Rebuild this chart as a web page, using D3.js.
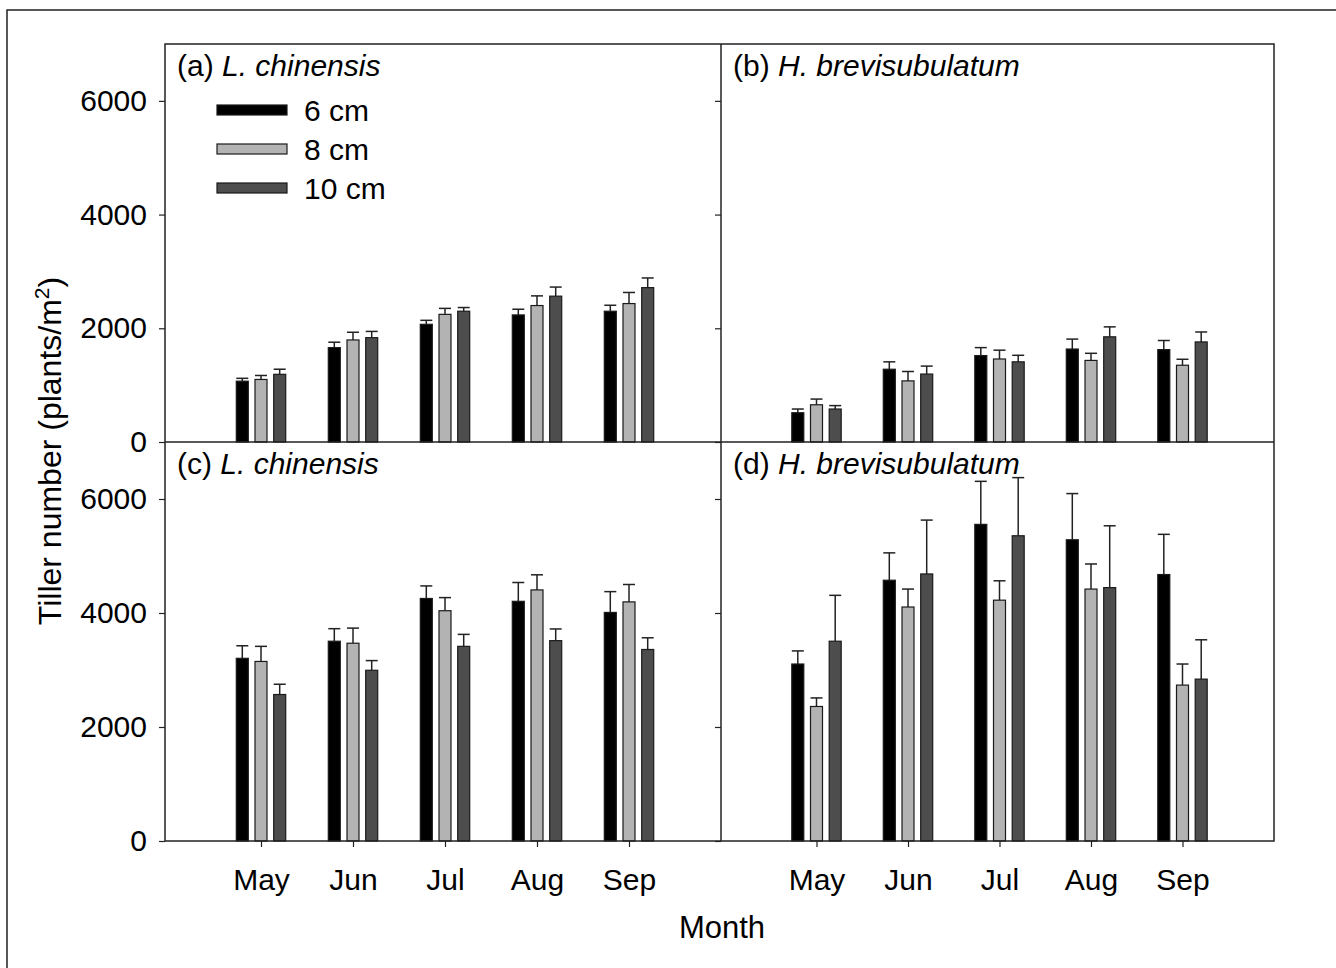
<!DOCTYPE html>
<html>
<head>
<meta charset="utf-8">
<script src="https://cdn.jsdelivr.net/npm/d3@7"></script>
<style>
  body { margin: 0; background: #fff; }
  svg text { font-family: "Liberation Sans", Arial, sans-serif; fill: #000; }
</style>
</head>
<body>
<svg id="chart" width="1336" height="968"></svg>
<script>
// Data
const months = ['May', 'Jun', 'Jul', 'Aug', 'Sep'];
const heights = ['6 cm', '8 cm', '10 cm'];
const yTicks = [0, 2000, 4000, 6000];

// (a) L. chinensis
const a6 = [1070, 1660, 2070, 2235, 2300];
const a6Err = [50, 95, 70, 100, 105];
const a8 = [1100, 1795, 2245, 2400, 2435];
const a8Err = [70, 135, 105, 170, 195];
const a10 = [1190, 1835, 2300, 2565, 2715];
const a10Err = [90, 110, 65, 160, 170];

// (b) H. brevisubulatum
const b6 = [515, 1280, 1520, 1635, 1625];
const b6Err = [65, 130, 140, 175, 160];
const b8 = [655, 1075, 1460, 1435, 1350];
const b8Err = [100, 165, 155, 125, 105];
const b10 = [580, 1195, 1410, 1850, 1760];
const b10Err = [60, 140, 115, 175, 175];

// (c) L. chinensis
const c6 = [3205, 3505, 4255, 4205, 4010];
const c6Err = [220, 220, 220, 330, 365];
const c8 = [3150, 3470, 4040, 4405, 4195];
const c8Err = [265, 265, 230, 265, 305];
const c10 = [2570, 2995, 3415, 3515, 3360];
const c10Err = [180, 170, 210, 205, 205];

// (d) H. brevisubulatum
const d6 = [3105, 4575, 5555, 5285, 4675];
const d6Err = [230, 480, 755, 810, 705];
const d8 = [2360, 4105, 4225, 4420, 2735];
const d8Err = [150, 315, 340, 440, 370];
const d10 = [3505, 4685, 5355, 4445, 2840];
const d10Err = [805, 945, 1020, 1085, 690];

const colors = d3.scaleOrdinal()
    .domain(heights)
    .range(['#000000', '#b3b3b3', '#4d4d4d']);

const svg = d3.select('#chart');

// outer figure border
svg.append('rect')
    .attr('x', 7).attr('y', 10)
    .attr('width', 1340).attr('height', 980)
    .attr('fill', 'none')
    .attr('stroke', '#222')
    .attr('stroke-width', 1.5);

const plotL = 165, plotM = 721, plotR = 1274;
const plotT = 44, plotMY = 442, plotB = 841;

const panels = [
    { label: '(a) ', species: 'L. chinensis', x0: plotL, x1: plotM, y0: plotT, y1: plotMY,
      series: [[a6, a6Err], [a8, a8Err], [a10, a10Err]], yLabels: true, xAxis: false },
    { label: '(b) ', species: 'H. brevisubulatum', x0: plotM, x1: plotR, y0: plotT, y1: plotMY,
      series: [[b6, b6Err], [b8, b8Err], [b10, b10Err]], yLabels: false, xAxis: false },
    { label: '(c) ', species: 'L. chinensis', x0: plotL, x1: plotM, y0: plotMY, y1: plotB,
      series: [[c6, c6Err], [c8, c8Err], [c10, c10Err]], yLabels: true, xAxis: true },
    { label: '(d) ', species: 'H. brevisubulatum', x0: plotM, x1: plotR, y0: plotMY, y1: plotB,
      series: [[d6, d6Err], [d8, d8Err], [d10, d10Err]], yLabels: false, xAxis: true }
];

const offset = d3.scalePoint().domain(heights).range([-18.7, 18.7]);
const barW = 12;

panels.forEach(p => {
    const x = d3.scaleLinear().domain([0, 6]).range([p.x0 + 4, p.x1]);
    const y = d3.scaleLinear().domain([0, 7000]).range([p.y1, p.y0]);
    const g = svg.append('g');

    // y axis
    const yAxis = d3.axisLeft(y).tickValues(yTicks).tickSize(6).tickPadding(12)
        .tickFormat(p.yLabels ? d3.format('d') : '');
    const ya = g.append('g')
        .attr('transform', `translate(${p.x0},0)`)
        .call(yAxis);
    ya.select('.domain').remove();
    ya.selectAll('line').attr('stroke', '#222').attr('stroke-width', 1.2);
    ya.selectAll('text')
        .style('font-size', '30px')
        .style('font-family', '"Liberation Sans", Arial, sans-serif');

    // x axis
    if (p.xAxis) {
        const xa = g.append('g')
            .attr('transform', `translate(0,${p.y1})`)
            .call(d3.axisBottom(x).tickValues([1, 2, 3, 4, 5])
                .tickFormat((d, i) => months[i]).tickSize(6).tickPadding(22));
        xa.select('.domain').remove();
        xa.selectAll('line').attr('stroke', '#222').attr('stroke-width', 1.2);
        xa.selectAll('text')
            .style('font-size', '30px')
            .style('font-family', '"Liberation Sans", Arial, sans-serif');
    }

    // bars and error bars
    p.series.forEach((s, k) => {
        const h = heights[k];
        const rows = months.map((m, i) => ({ i: i + 1, v: s[0][i], e: s[1][i] }));

        g.selectAll(null)
            .data(rows)
            .enter()
            .append('line')
            .attr('x1', d => x(d.i) + offset(h))
            .attr('x2', d => x(d.i) + offset(h))
            .attr('y1', d => y(d.v))
            .attr('y2', d => y(d.v + d.e))
            .attr('stroke', '#222')
            .attr('stroke-width', 1.5);

        g.selectAll(null)
            .data(rows)
            .enter()
            .append('line')
            .attr('x1', d => x(d.i) + offset(h) - barW / 2)
            .attr('x2', d => x(d.i) + offset(h) + barW / 2)
            .attr('y1', d => y(d.v + d.e))
            .attr('y2', d => y(d.v + d.e))
            .attr('stroke', '#222')
            .attr('stroke-width', 1.5);

        g.selectAll(null)
            .data(rows)
            .enter()
            .append('rect')
            .attr('x', d => x(d.i) + offset(h) - barW / 2)
            .attr('y', d => y(d.v))
            .attr('width', barW)
            .attr('height', d => y(0) - y(d.v))
            .attr('fill', colors(h))
            .attr('stroke', '#1a1a1a')
            .attr('stroke-width', 1.2);
    });

    // panel label
    const t = g.append('text')
        .attr('x', p.x0 + 12)
        .attr('y', p.y0 + 32)
        .style('font-size', '30px');
    t.append('tspan').text(p.label);
    t.append('tspan').style('font-style', 'italic').text(p.species);
});

// frame and dividers
const frame = svg.append('g')
    .attr('fill', 'none')
    .attr('stroke', '#222')
    .attr('stroke-width', 1.5);
frame.append('rect')
    .attr('x', plotL).attr('y', plotT)
    .attr('width', plotR - plotL).attr('height', plotB - plotT);
frame.append('line')
    .attr('x1', plotM).attr('x2', plotM).attr('y1', plotT).attr('y2', plotB);
frame.append('line')
    .attr('x1', plotL).attr('x2', plotR).attr('y1', plotMY).attr('y2', plotMY);

// legend
const legend = svg.append('g');
heights.forEach((h, i) => {
    const ly = 110 + i * 39;
    legend.append('rect')
        .attr('x', 217).attr('y', ly - 5)
        .attr('width', 70).attr('height', 10)
        .attr('fill', colors(h))
        .attr('stroke', '#1a1a1a')
        .attr('stroke-width', 1.2);
    legend.append('text')
        .attr('x', 304).attr('y', ly + 11)
        .style('font-size', '30px')
        .text(h);
});

// axis titles
svg.append('text')
    .attr('x', 722).attr('y', 938)
    .attr('text-anchor', 'middle')
    .style('font-size', '31px')
    .text('Month');

const yt = svg.append('text')
    .attr('transform', 'translate(61,451) rotate(-90)')
    .attr('text-anchor', 'middle')
    .style('font-size', '32px');
yt.append('tspan').text('Tiller number (plants/m');
yt.append('tspan').attr('dy', -12).style('font-size', '21px').text('2');
yt.append('tspan').attr('dy', 12).text(')');
</script>
</body>
</html>
